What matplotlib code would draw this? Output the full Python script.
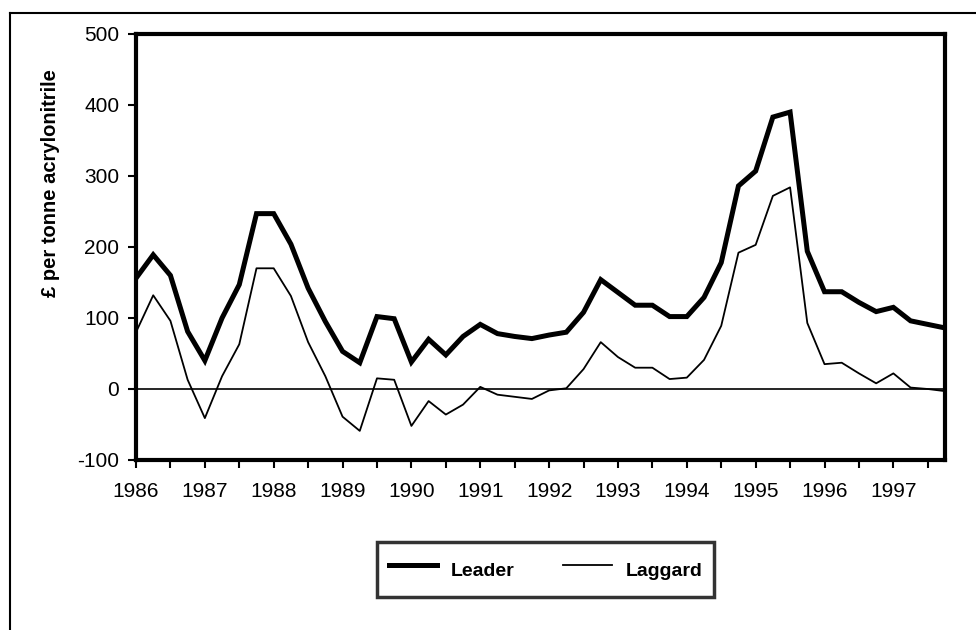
import numpy as np
import matplotlib.pyplot as plt
from matplotlib.lines import Line2D

plt.rcParams['font.family'] = ['Liberation Sans', 'DejaVu Sans']

# квартальные значения, 1986 Q1 - 1997 Q4
leader = [156, 189, 160, 81, 40, 100, 147, 247, 247, 204, 142, 95,
          53, 37, 102, 99, 38, 70, 48, 74, 91, 78, 74, 71,
          76, 80, 108, 154, 136, 118, 118, 102, 102, 129, 178, 286,
          307, 383, 390, 194, 137, 137, 122, 109, 115, 96, 91, 86]
laggard = [80, 132, 96, 13, -41, 18, 63, 170, 170, 131, 66, 18,
           -39, -59, 15, 13, -52, -17, -36, -22, 3, -8, -11, -14,
           -2, 1, 28, 66, 45, 30, 30, 14, 16, 41, 89, 192,
           203, 272, 284, 93, 35, 37, 22, 8, 22, 2, 0, -3]
years = [str(y) for y in range(1986, 1998)]
y_ticks = [-100, 0, 100, 200, 300, 400, 500]

quarters = np.arange(len(leader))

fig = plt.figure(figsize=(9.76, 6.30), dpi=100)
ax = fig.add_axes([136 / 976, 1 - 460 / 630, (945 - 136) / 976, (460 - 34) / 630])

ax.axhline(0, color='black', lw=1.2, zorder=1)
ax.plot(quarters, leader, color='black', lw=3.6, solid_joinstyle='miter', label='Leader')
ax.plot(quarters, laggard, color='black', lw=1.3, label='Laggard')

ax.set_xlim(0, len(leader) - 1)
ax.set_ylim(-100, 500)
ax.set_yticks(y_ticks)
ax.set_yticklabels([str(v) for v in y_ticks], fontsize=15)
ax.set_xticks(np.arange(0, len(leader), 2))
ax.set_xticklabels([years[i // 4] if i % 4 == 0 else '' for i in range(0, len(leader), 2)],
                   fontsize=15)
ax.tick_params(axis='both', direction='out', length=6, width=1.5, color='black')
ax.tick_params(axis='x', pad=10)
ax.tick_params(axis='y', pad=6)
for side in ax.spines.values():
    side.set_linewidth(3)

# подпись оси сдвинута вверх
ax.set_ylabel('£ per tonne acrylonitrile', fontsize=14.5, fontweight='bold')
ax.yaxis.set_label_coords((60 - 136) / 809, (460 - 183) / 426)

handles = [Line2D([], [], color='black', lw=3.6), Line2D([], [], color='black', lw=1.3)]
leg = fig.legend(handles, ['Leader', 'Laggard'], loc='center',
                 bbox_to_anchor=(545.5 / 976, 1 - 569.5 / 630),
                 ncol=2, frameon=True, fancybox=False, edgecolor='black',
                 handlelength=2.5, handleheight=2.1, handletextpad=0.7, columnspacing=2.5,
                 borderpad=0.6, borderaxespad=0, prop={'weight': 'bold', 'size': 14})
leg.get_frame().set_linewidth(2.5)

# рамка рисунка: верх и левый край
fig.add_artist(Line2D([10 / 976, 1], [1 - 13 / 630, 1 - 13 / 630], color='black', lw=1.5,
                      transform=fig.transFigure))
fig.add_artist(Line2D([10 / 976, 10 / 976], [0, 1 - 13 / 630], color='black', lw=1.5,
                      transform=fig.transFigure))

fig.savefig('out.png', dpi=100)
